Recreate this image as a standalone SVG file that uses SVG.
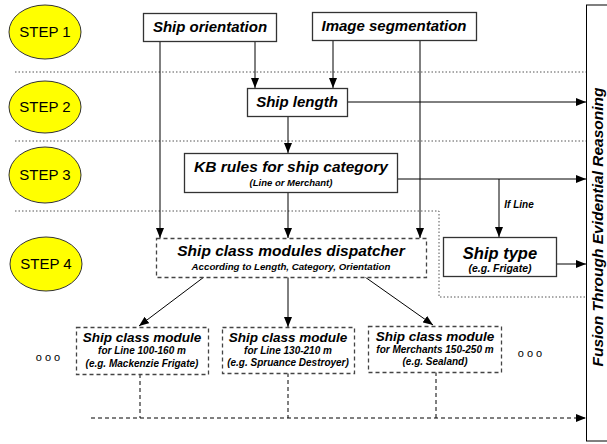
<svg xmlns="http://www.w3.org/2000/svg" width="607" height="444" viewBox="0 0 607 444">
<defs>
<marker id="ah" markerWidth="10" markerHeight="8" refX="10" refY="4" orient="auto" markerUnits="userSpaceOnUse">
<path d="M0,0 L10,4 L0,8 Z" fill="#000"/>
</marker>
<style>
.step{fill:#ffff00;stroke:#333;stroke-width:1}
.steptxt{font-family:"Liberation Sans",Arial,sans-serif;font-size:15px;fill:#000;text-anchor:middle}
.box{fill:#fff;stroke:#333;stroke-width:1.3}
.dbox{fill:#fff;stroke:#444;stroke-width:1.3;stroke-dasharray:4,3}
.t{font-family:"Liberation Sans",Arial,sans-serif;font-weight:bold;font-style:italic;fill:#000;text-anchor:middle}
.sep{stroke:#555;stroke-width:1;stroke-dasharray:1.5,2;fill:none}
.ln{stroke:#000;stroke-width:1;fill:none}
.dl{stroke:#000;stroke-width:1;stroke-dasharray:4,3;fill:none}
.dots{font-family:"Liberation Sans",Arial,sans-serif;font-size:11px;fill:#000;text-anchor:middle}
</style>
</defs>
<rect width="607" height="444" fill="#fff"/>

<g id="separators">
<line class="sep" x1="15" y1="72" x2="586" y2="72"/>
<line class="sep" x1="15" y1="141" x2="586" y2="141"/>
<polyline class="sep" points="15,211 439,211 439,297 586,297"/>
</g>

<g id="frame">
<rect x="586.5" y="5" width="40" height="436" fill="#fff" stroke="#000" stroke-width="1"/>
<text class="t" font-size="15.5" transform="translate(603,227) rotate(-90)">Fusion Through Evidential Reasoning</text>
</g>

<g id="step1"><ellipse class="step" cx="45" cy="32" rx="36" ry="27"/><text class="steptxt" x="45" y="37">STEP 1</text></g>
<g id="step2"><ellipse class="step" cx="45" cy="107" rx="36" ry="26"/><text class="steptxt" x="45" y="112">STEP 2</text></g>
<g id="step3"><ellipse class="step" cx="45" cy="175" rx="36" ry="28"/><text class="steptxt" x="45" y="180">STEP 3</text></g>
<g id="step4"><ellipse class="step" cx="46" cy="264" rx="36" ry="27"/><text class="steptxt" x="46" y="269">STEP 4</text></g>

<g id="connectors">
<line class="ln" x1="160" y1="41" x2="160" y2="238" marker-end="url(#ah)"/>
<line class="ln" x1="255" y1="41" x2="255" y2="88" marker-end="url(#ah)"/>
<line class="ln" x1="333" y1="40" x2="333" y2="88" marker-end="url(#ah)"/>
<line class="ln" x1="420" y1="40" x2="420" y2="238" marker-end="url(#ah)"/>
<line class="ln" x1="347" y1="102" x2="586" y2="102" marker-end="url(#ah)"/>
<line class="ln" x1="288" y1="116" x2="288" y2="153" marker-end="url(#ah)"/>
<line class="ln" x1="397" y1="179" x2="586" y2="179" marker-end="url(#ah)"/>
<line class="ln" x1="499" y1="179" x2="499" y2="237" marker-end="url(#ah)"/>
<line class="ln" x1="288" y1="192" x2="288" y2="238" marker-end="url(#ah)"/>
<line class="ln" x1="556" y1="264" x2="586" y2="264" marker-end="url(#ah)"/>
<line class="ln" x1="204" y1="277" x2="139" y2="326" marker-end="url(#ah)"/>
<line class="ln" x1="288" y1="277" x2="288" y2="327" marker-end="url(#ah)"/>
<line class="ln" x1="365" y1="277" x2="433" y2="325" marker-end="url(#ah)"/>
<line class="dl" x1="140" y1="374" x2="140" y2="418"/>
<line class="dl" x1="288" y1="373" x2="288" y2="418"/>
<line class="dl" x1="436" y1="372" x2="436" y2="418"/>
<line class="dl" x1="91" y1="418" x2="586" y2="418" marker-end="url(#ah)"/>
<text class="t" font-size="10" x="519" y="208">If Line</text>
</g>

<g id="ship-orientation"><rect class="box" x="143.5" y="13.5" width="133" height="28"/><text class="t" font-size="15" x="210" y="32">Ship orientation</text></g>
<g id="image-segmentation"><rect class="box" x="312.5" y="12.5" width="164" height="28"/><text class="t" font-size="15" x="394" y="31">Image segmentation</text></g>
<g id="ship-length"><rect class="box" x="247.5" y="88.5" width="100" height="28"/><text class="t" font-size="15" x="297" y="107">Ship length</text></g>
<g id="kb-rules"><rect class="box" x="184.5" y="153.5" width="213" height="39"/><text class="t" font-size="15.5" x="291" y="172">KB rules for ship category</text><text class="t" font-size="9.5" x="291" y="186">(Line or Merchant)</text></g>
<g id="dispatcher"><rect class="dbox" x="156.5" y="238.5" width="270" height="39"/><text class="t" font-size="15.5" x="291" y="256">Ship class modules dispatcher</text><text class="t" font-size="9.7" x="291" y="270">According to Length, Category, Orientation</text></g>
<g id="ship-type"><rect class="box" x="443.5" y="237.5" width="113" height="39"/><text class="t" font-size="16.5" x="500" y="259">Ship type</text><text class="t" font-size="10.5" x="500" y="272">(e.g. Frigate)</text></g>
<g id="module1"><rect class="dbox" x="76.5" y="327.5" width="132" height="47"/><text class="t" font-size="13.5" x="142" y="342">Ship class module</text><text class="t" font-size="10" x="142" y="354">for Line 100-160 m</text><text class="t" font-size="10" x="142" y="367">(e.g. Mackenzie Frigate)</text></g>
<g id="module2"><rect class="dbox" x="222.5" y="327.5" width="132" height="46"/><text class="t" font-size="13.5" x="288" y="342">Ship class module</text><text class="t" font-size="10" x="288" y="354">for Line 130-210 m</text><text class="t" font-size="10" x="288" y="366">(e.g. Spruance Destroyer)</text></g>
<g id="module3"><rect class="dbox" x="368.5" y="326.5" width="133" height="46"/><text class="t" font-size="13.5" x="435" y="341">Ship class module</text><text class="t" font-size="10" x="435" y="353">for Merchants 150-250 m</text><text class="t" font-size="10" x="435" y="365">(e.g. Sealand)</text></g>
<g id="ellipsis-left"><text class="dots" x="48" y="361">o o o</text></g>
<g id="ellipsis-right"><text class="dots" x="530" y="357">o o o</text></g>
</svg>
